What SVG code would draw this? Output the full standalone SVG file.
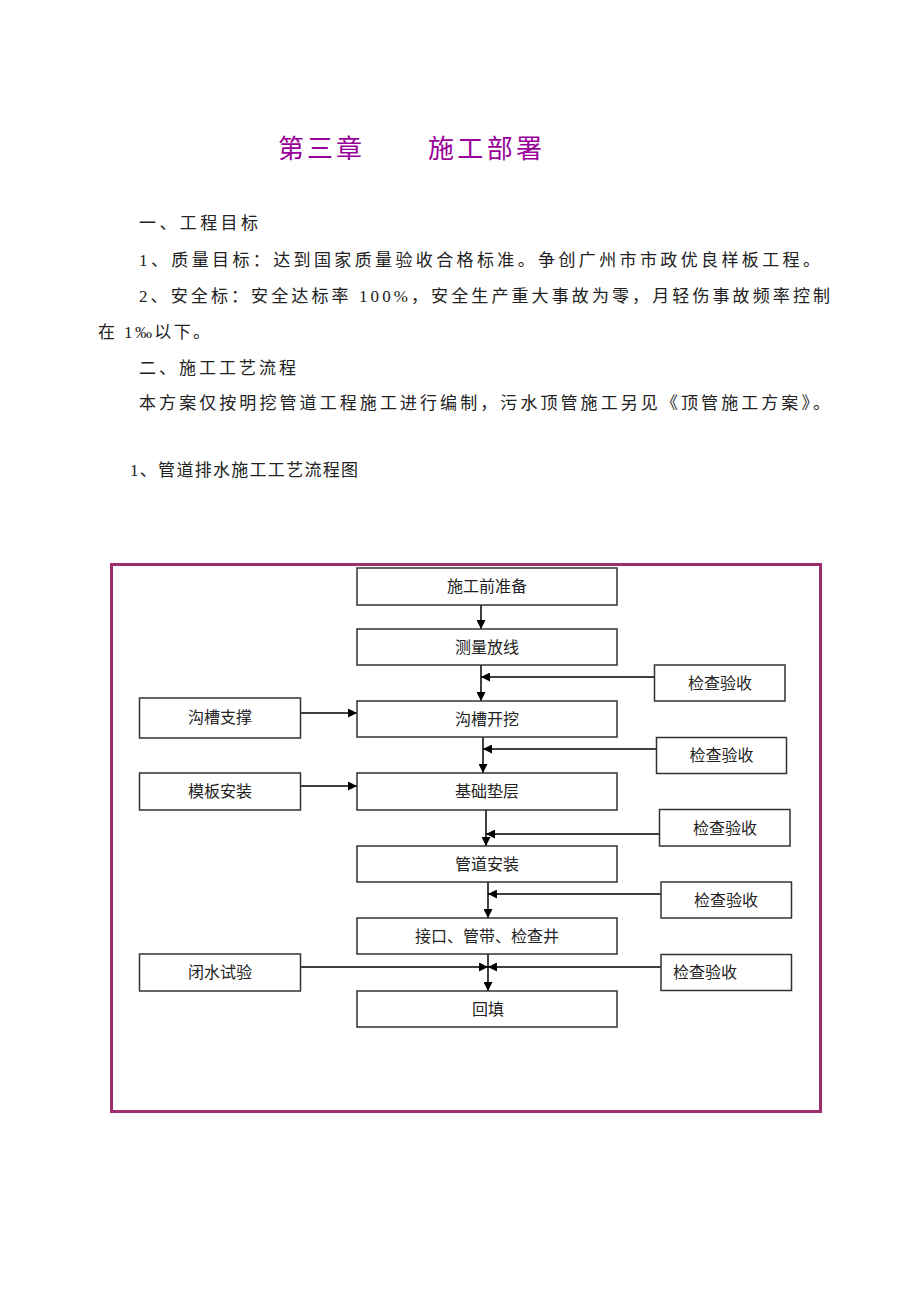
<svg xmlns="http://www.w3.org/2000/svg" width="920" height="1302" viewBox="0 0 920 1302">
<style>
.body{font-family:"Liberation Serif","Noto Sans CJK SC",serif;font-size:17px;fill:#222}
.title{font-family:"Liberation Serif","Noto Sans CJK SC",serif;font-size:26px;fill:#990099}
.box{fill:#fff;stroke:#333;stroke-width:1.5}
.lbl{font-family:"Liberation Serif","Noto Sans CJK SC",serif;font-size:16px;fill:#222;text-anchor:middle}
.con{stroke:#000;stroke-width:1.5;fill:none;marker-end:url(#ah)}
</style>
<defs>
<marker id="ah" markerUnits="userSpaceOnUse" markerWidth="9" markerHeight="9" refX="9" refY="4.5" orient="auto" viewBox="0 0 9 9">
<path d="M0,0 L9,4.5 L0,9 z" fill="#000"/>
</marker>
</defs>
<rect width="920" height="1302" fill="#fff"/>
<g id="text">
<text class="title" x="278" y="158" textLength="84" lengthAdjust="spacing">第三章</text>
<text class="title" x="428" y="158" textLength="114" lengthAdjust="spacing">施工部署</text>
<text class="body" x="139" y="229" textLength="119" lengthAdjust="spacing">一、工程目标</text>
<text class="body" x="139" y="266" textLength="681" lengthAdjust="spacing">1、质量目标：达到国家质量验收合格标准。争创广州市市政优良样板工程。</text>
<text class="body" x="139" y="302" textLength="691" lengthAdjust="spacing">2、安全标：安全达标率 100%，安全生产重大事故为零，月轻伤事故频率控制</text>
<text class="body" x="98" y="338" textLength="112" lengthAdjust="spacing">在 1‰以下。</text>
<text class="body" x="139" y="374" textLength="157" lengthAdjust="spacing">二、施工工艺流程</text>
<text class="body" x="139" y="409" textLength="691" lengthAdjust="spacing">本方案仅按明挖管道工程施工进行编制，污水顶管施工另见《顶管施工方案》。</text>
<text class="body" x="130" y="476" textLength="228" lengthAdjust="spacing">1、管道排水施工工艺流程图</text>
</g>
<rect id="frame" x="111.5" y="564.5" width="709" height="547" fill="none" stroke="#9E2D6C" stroke-width="3"/>
<g id="connectors">
<line class="con" x1="481" y1="605" x2="481" y2="629"/>
<line class="con" x1="481" y1="665" x2="481" y2="701"/>
<line class="con" x1="654" y1="677" x2="481" y2="677"/>
<line class="con" x1="483" y1="737" x2="483" y2="773"/>
<line class="con" x1="656" y1="749" x2="483" y2="749"/>
<line class="con" x1="486" y1="810" x2="486" y2="846"/>
<line class="con" x1="659" y1="834" x2="486" y2="834"/>
<line class="con" x1="488" y1="882" x2="488" y2="918"/>
<line class="con" x1="661" y1="894" x2="488" y2="894"/>
<line class="con" x1="488" y1="954" x2="488" y2="991"/>
<line class="con" x1="301" y1="967" x2="488" y2="967"/>
<line class="con" x1="661" y1="967" x2="488" y2="967"/>
<line class="con" x1="301" y1="713" x2="357" y2="713"/>
<line class="con" x1="301" y1="786" x2="357" y2="786"/>
</g>
<g id="n1"><rect class="box" x="357" y="568" width="260" height="37"/><text class="lbl" x="487" y="592">施工前准备</text></g>
<g id="n2"><rect class="box" x="357" y="629" width="260" height="36"/><text class="lbl" x="487" y="653">测量放线</text></g>
<g id="n3"><rect class="box" x="357" y="701" width="260" height="36"/><text class="lbl" x="487" y="725">沟槽开挖</text></g>
<g id="n4"><rect class="box" x="357" y="773" width="260" height="37"/><text class="lbl" x="487" y="797">基础垫层</text></g>
<g id="n5"><rect class="box" x="357" y="846" width="260" height="36"/><text class="lbl" x="487" y="870">管道安装</text></g>
<g id="n6"><rect class="box" x="357" y="918" width="260" height="36"/><text class="lbl" x="487" y="942">接口、管带、检查井</text></g>
<g id="n7"><rect class="box" x="357" y="991" width="260" height="36"/><text class="lbl" x="488" y="1015">回填</text></g>
<g id="l1"><rect class="box" x="139.5" y="698" width="161" height="40"/><text class="lbl" x="220" y="723">沟槽支撑</text></g>
<g id="l2"><rect class="box" x="139.5" y="773" width="161" height="37"/><text class="lbl" x="220" y="797">模板安装</text></g>
<g id="l3"><rect class="box" x="139.5" y="954" width="161" height="37"/><text class="lbl" x="220" y="978">闭水试验</text></g>
<g id="c1"><rect class="box" x="654.5" y="665" width="130.5" height="36"/><text class="lbl" x="720" y="689">检查验收</text></g>
<g id="c2"><rect class="box" x="656.5" y="737.5" width="130" height="36"/><text class="lbl" x="721.5" y="761">检查验收</text></g>
<g id="c3"><rect class="box" x="659.5" y="809.5" width="130.5" height="36.5"/><text class="lbl" x="725" y="834">检查验收</text></g>
<g id="c4"><rect class="box" x="661" y="882" width="130.5" height="36"/><text class="lbl" x="726" y="906">检查验收</text></g>
<g id="c5"><rect class="box" x="661" y="954.5" width="130.5" height="36"/><text class="lbl" x="705" y="978">检查验收</text></g>
</svg>
